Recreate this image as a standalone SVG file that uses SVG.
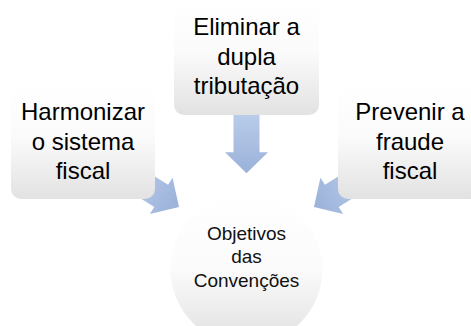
<svg xmlns="http://www.w3.org/2000/svg" width="471" height="326" viewBox="0 0 471 326">
  <defs>
    <linearGradient id="boxGrad" x1="0" y1="0" x2="0" y2="1">
      <stop offset="0" stop-color="#ffffff"/>
      <stop offset="0.45" stop-color="#fbfbfb"/>
      <stop offset="1" stop-color="#e2e2e2"/>
    </linearGradient>
    <linearGradient id="circGrad" x1="0" y1="0" x2="0" y2="1">
      <stop offset="0" stop-color="#ffffff"/>
      <stop offset="0.5" stop-color="#fbfbfb"/>
      <stop offset="1" stop-color="#e0e0e0"/>
    </linearGradient>
    <linearGradient id="arrowGrad" x1="0" y1="0" x2="1" y2="0">
      <stop offset="0" stop-color="#b9cce9"/>
      <stop offset="1" stop-color="#9ab1d9"/>
    </linearGradient>
    <path id="arrow" d="M-58.7,-13 L-21,-13 L-21,-21.5 L0,0 L-21,21.5 L-21,13 L-58.7,13 Z"/>
  </defs>
  <style>
    .box { fill: url(#boxGrad); }
    .circ { fill: url(#circGrad); }
    .arr { fill: url(#arrowGrad); }
    .t { font-family: "Liberation Sans", Arial, sans-serif; font-size: 24px; fill: #000000; text-anchor: middle; }
    .tc { font-family: "Liberation Sans", Arial, sans-serif; font-size: 19px; fill: #111111; text-anchor: middle; }
  </style>

  <g id="center">
    <circle class="circ" cx="246.5" cy="269" r="76"/>
    <text class="tc" x="246.5" y="239.5">Objetivos</text>
    <text class="tc" x="246.5" y="263">das</text>
    <text class="tc" x="246.5" y="286.5">Convenções</text>
  </g>

  <g id="connectors">
    <use href="#arrow" class="arr" transform="translate(246.5,173.3) rotate(90)"/>
    <use href="#arrow" class="arr" transform="translate(179,207) rotate(32)"/>
    <use href="#arrow" class="arr" transform="translate(314,207) rotate(148)"/>
  </g>

  <g id="top">
    <rect class="box" x="174" y="0" width="145" height="115" rx="10"/>
    <text class="t" x="246.5" y="35">Eliminar a</text>
    <text class="t" x="246.5" y="64.5">dupla</text>
    <text class="t" x="246.5" y="93.5">tributação</text>
  </g>

  <g id="left">
    <rect class="box" x="11" y="84" width="144" height="115" rx="10"/>
    <text class="t" x="83" y="120">Harmonizar</text>
    <text class="t" x="83" y="149.5">o sistema</text>
    <text class="t" x="83" y="179">fiscal</text>
  </g>

  <g id="right">
    <rect class="box" x="338" y="84" width="145" height="115" rx="10"/>
    <text class="t" x="410" y="120">Prevenir a</text>
    <text class="t" x="410" y="149.5">fraude</text>
    <text class="t" x="410" y="179">fiscal</text>
  </g>
</svg>
